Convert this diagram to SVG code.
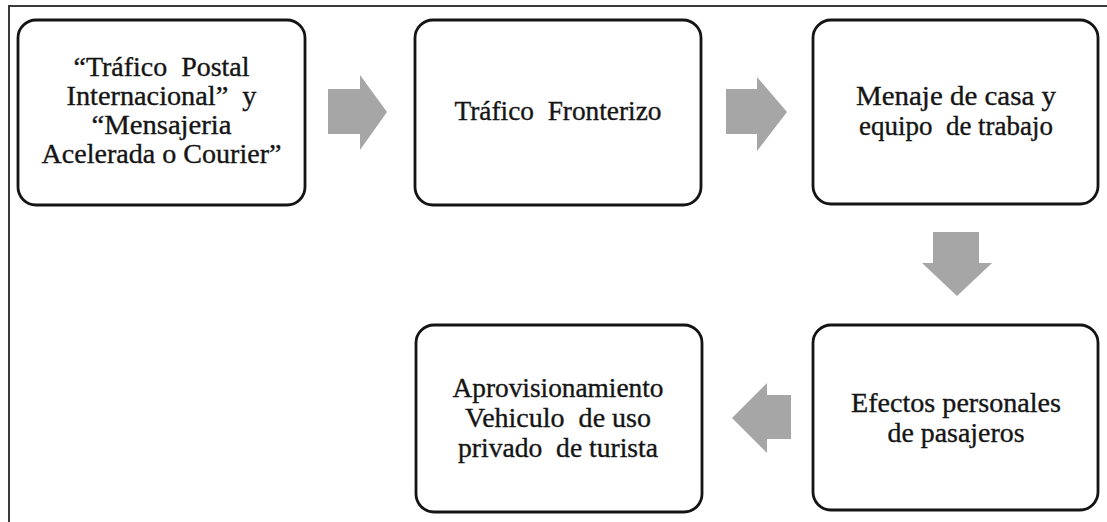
<svg xmlns="http://www.w3.org/2000/svg" width="1107" height="522" viewBox="0 0 1107 522" xml:space="preserve">
<style>
.frame{fill:none;stroke:#3a3a3a;stroke-width:2}
.box{fill:#ffffff;stroke:#141414;stroke-width:2.8}
.arrow{fill:#a6a6a6;stroke:none}
.t{font-size:27px;fill:#151515;stroke:#151515;stroke-width:0.35;text-anchor:middle;white-space:pre}
</style>
<rect width="1107" height="522" fill="#ffffff"/>
<path class="frame" d="M9,523 L9,6 L1108,6"/>
<g id="connectors">
<polygon class="arrow" points="328,89 360,89 360,75 387,112 360,150 360,134 328,134"/>
<polygon class="arrow" points="726,89 757,89 757,77 787,112 757,151 757,134 726,134"/>
<polygon class="arrow" points="933,232 979,232 979,263 992,263 957,296 922,263 933,263"/>
<polygon class="arrow" points="791,395 767,395 767,383 732,418 767,453 767,439 791,439"/>
</g>
<g font-family="Liberation Serif, Times New Roman, serif">
<g id="node1">
<rect class="box" x="18" y="20" width="287" height="185" rx="18"/>
<text class="t" x="161.5" y="76" textLength="176" lengthAdjust="spacingAndGlyphs">“Tráfico  Postal</text>
<text class="t" x="161.5" y="105" textLength="190" lengthAdjust="spacingAndGlyphs">Internacional”  y</text>
<text class="t" x="161.5" y="134" textLength="140" lengthAdjust="spacingAndGlyphs">“Mensajeria</text>
<text class="t" x="161.5" y="163" textLength="240" lengthAdjust="spacingAndGlyphs">Acelerada o Courier”</text>
</g>
<g id="node2">
<rect class="box" x="415" y="20" width="286" height="185" rx="18"/>
<text class="t" x="558" y="120" textLength="207" lengthAdjust="spacingAndGlyphs">Tráfico  Fronterizo</text>
</g>
<g id="node3">
<rect class="box" x="813" y="20" width="285" height="184" rx="18"/>
<text class="t" x="956" y="105" textLength="200" lengthAdjust="spacingAndGlyphs">Menaje de casa y</text>
<text class="t" x="956" y="135" textLength="194" lengthAdjust="spacingAndGlyphs">equipo  de trabajo</text>
</g>
<g id="node4">
<rect class="box" x="813" y="325" width="285" height="185" rx="18"/>
<text class="t" x="956" y="412" textLength="210" lengthAdjust="spacingAndGlyphs">Efectos personales</text>
<text class="t" x="956" y="442" textLength="137" lengthAdjust="spacingAndGlyphs">de pasajeros</text>
</g>
<g id="node5">
<rect class="box" x="416" y="325" width="286" height="187" rx="18"/>
<text class="t" x="558" y="397" textLength="211" lengthAdjust="spacingAndGlyphs">Aprovisionamiento</text>
<text class="t" x="558" y="427" textLength="186" lengthAdjust="spacingAndGlyphs">Vehiculo  de uso</text>
<text class="t" x="558" y="457" textLength="200" lengthAdjust="spacingAndGlyphs">privado  de turista</text>
</g>
</g>
</svg>
